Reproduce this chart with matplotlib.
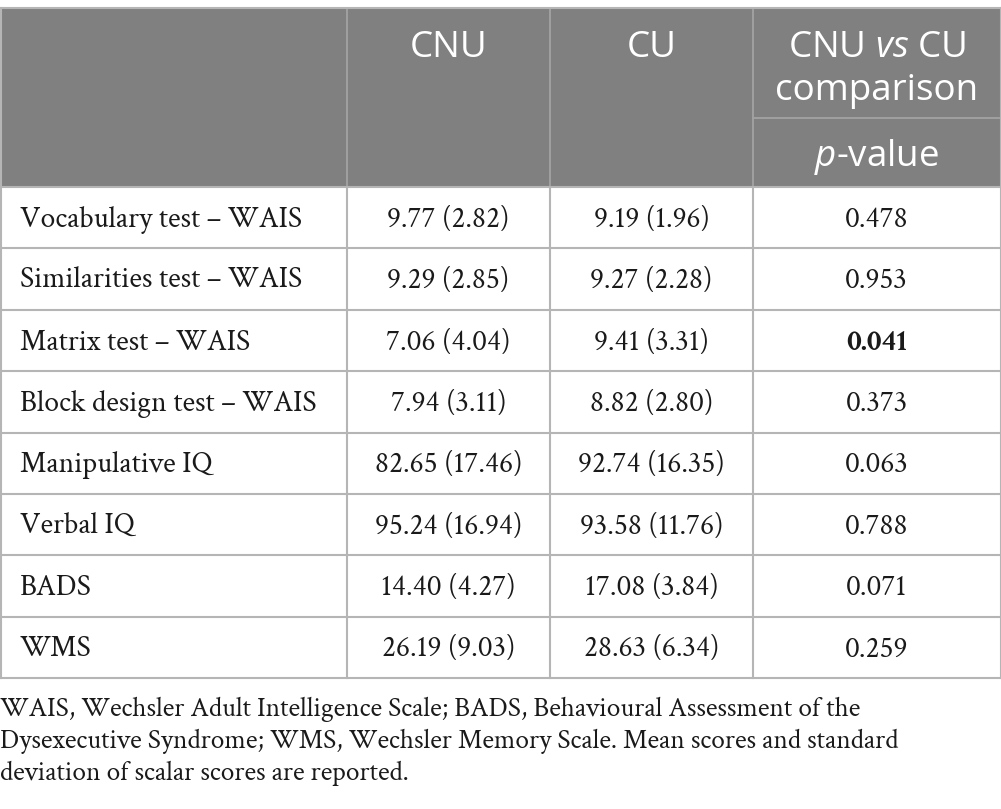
import matplotlib
matplotlib.use("Agg")
import matplotlib.pyplot as plt

# ---- data ----
measures = ["Vocabulary test \u2013 WAIS", "Similarities test \u2013 WAIS", "Matrix test \u2013 WAIS",
            "Block design test \u2013 WAIS", "Manipulative IQ", "Verbal IQ", "BADS", "WMS"]
cnu_mean = [9.77, 9.29, 7.06, 7.94, 82.65, 95.24, 14.40, 26.19]
cnu_sd = [2.82, 2.85, 4.04, 3.11, 17.46, 16.94, 4.27, 9.03]
cu_mean = [9.19, 9.27, 9.41, 8.82, 92.74, 93.58, 17.08, 28.63]
cu_sd = [1.96, 2.28, 3.31, 2.80, 16.35, 11.76, 3.84, 6.34]
p_values = [0.478, 0.953, 0.041, 0.373, 0.063, 0.788, 0.071, 0.259]
col_headers = ["CNU", "CU"]
footnote = ["WAIS, Wechsler Adult Intelligence Scale; BADS, Behavioural Assessment of the",
            "Dysexecutive Syndrome; WMS, Wechsler Memory Scale. Mean scores and standard",
            "deviation of scalar scores are reported."]

plt.rcParams["mathtext.fontset"] = "custom"
plt.rcParams["mathtext.it"] = "Open Sans:italic"
plt.rcParams["mathtext.rm"] = "Open Sans"

W, H = 1001, 809
fig = plt.figure(figsize=(W / 100, H / 100), dpi=100)
ax = fig.add_axes([0, 0, 1, 1])
ax.set_xlim(0, W)
ax.set_ylim(H, 0)
ax.axis("off")

# layout (pixels)
xs = [0.5, 347, 550, 753, 1000.5]
top, hdr_bot, sub_line = 8, 187, 118
row_h = 61.4
nrows = len(measures)
bot = hdr_bot + row_h * nrows

HEAD_BG = "#808080"
LINE = "#b5b5b5"
HLINE = "#a3a3a3"
TXT = "#1a1a1a"
serif = "Crimson Text"
body_fs = 21.3
head_fs = 26.5

ax.fill_between([0, W], top, hdr_bot, color=HEAD_BG, lw=0, zorder=0)
# header internal lines
for x in xs[1:4]:
    ax.plot([x, x], [top, hdr_bot], color=HLINE, lw=1.3, zorder=1)
ax.plot([xs[3], xs[4]], [sub_line, sub_line], color=HLINE, lw=1.3, zorder=1)
ax.plot([0, W], [top, top], color=LINE, lw=1.5, zorder=2)
# body grid
for i in range(nrows + 1):
    y = hdr_bot + row_h * i
    ax.plot([0, W], [y, y], color=LINE, lw=1.5, zorder=2)
for x in xs:
    ax.plot([x, x], [hdr_bot, bot], color=LINE, lw=1.5, zorder=2)
ax.plot([xs[0], xs[0]], [top, hdr_bot], color=LINE, lw=1.5, zorder=2)
ax.plot([xs[4], xs[4]], [top, hdr_bot], color=LINE, lw=1.5, zorder=2)

centers = [(xs[i] + xs[i + 1]) / 2 for i in range(4)]
# header texts
for c, lab in zip(centers[1:3], col_headers):
    ax.text(c, 57, lab, ha="center", va="baseline", color="white", fontsize=head_fs, family="Open Sans")
ax.text(centers[3], 57, r"CNU $\mathit{vs}$ CU", ha="center", va="baseline", color="white",
        fontsize=head_fs, family="Open Sans")
ax.text(centers[3], 100, "comparison", ha="center", va="baseline", color="white",
        fontsize=head_fs, family="Open Sans")
ax.text(centers[3], 166, r"$\mathit{p}$-value", ha="center", va="baseline", color="white",
        fontsize=head_fs, family="Open Sans")

# body
for i, m in enumerate(measures):
    yb = hdr_bot + row_h * i + row_h / 2 + 9
    ax.text(20, yb, m, ha="left", va="baseline", fontsize=body_fs, family=serif, color=TXT)
    ax.text(centers[1], yb, f"{cnu_mean[i]:.2f} ({cnu_sd[i]:.2f})", ha="center", va="baseline",
            fontsize=body_fs, family=serif, color=TXT)
    ax.text(centers[2], yb, f"{cu_mean[i]:.2f} ({cu_sd[i]:.2f})", ha="center", va="baseline",
            fontsize=body_fs, family=serif, color=TXT)
    ax.text(centers[3], yb, f"{p_values[i]:.3f}", ha="center", va="baseline",
            fontsize=body_fs, family=serif, color=TXT,
            fontweight="bold" if p_values[i] < 0.05 else "normal")

for j, line in enumerate(footnote):
    ax.text(0, 716 + 32 * j, line, ha="left", va="baseline", fontsize=19.7, family=serif, color=TXT)

fig.savefig("out.png", dpi=100)
